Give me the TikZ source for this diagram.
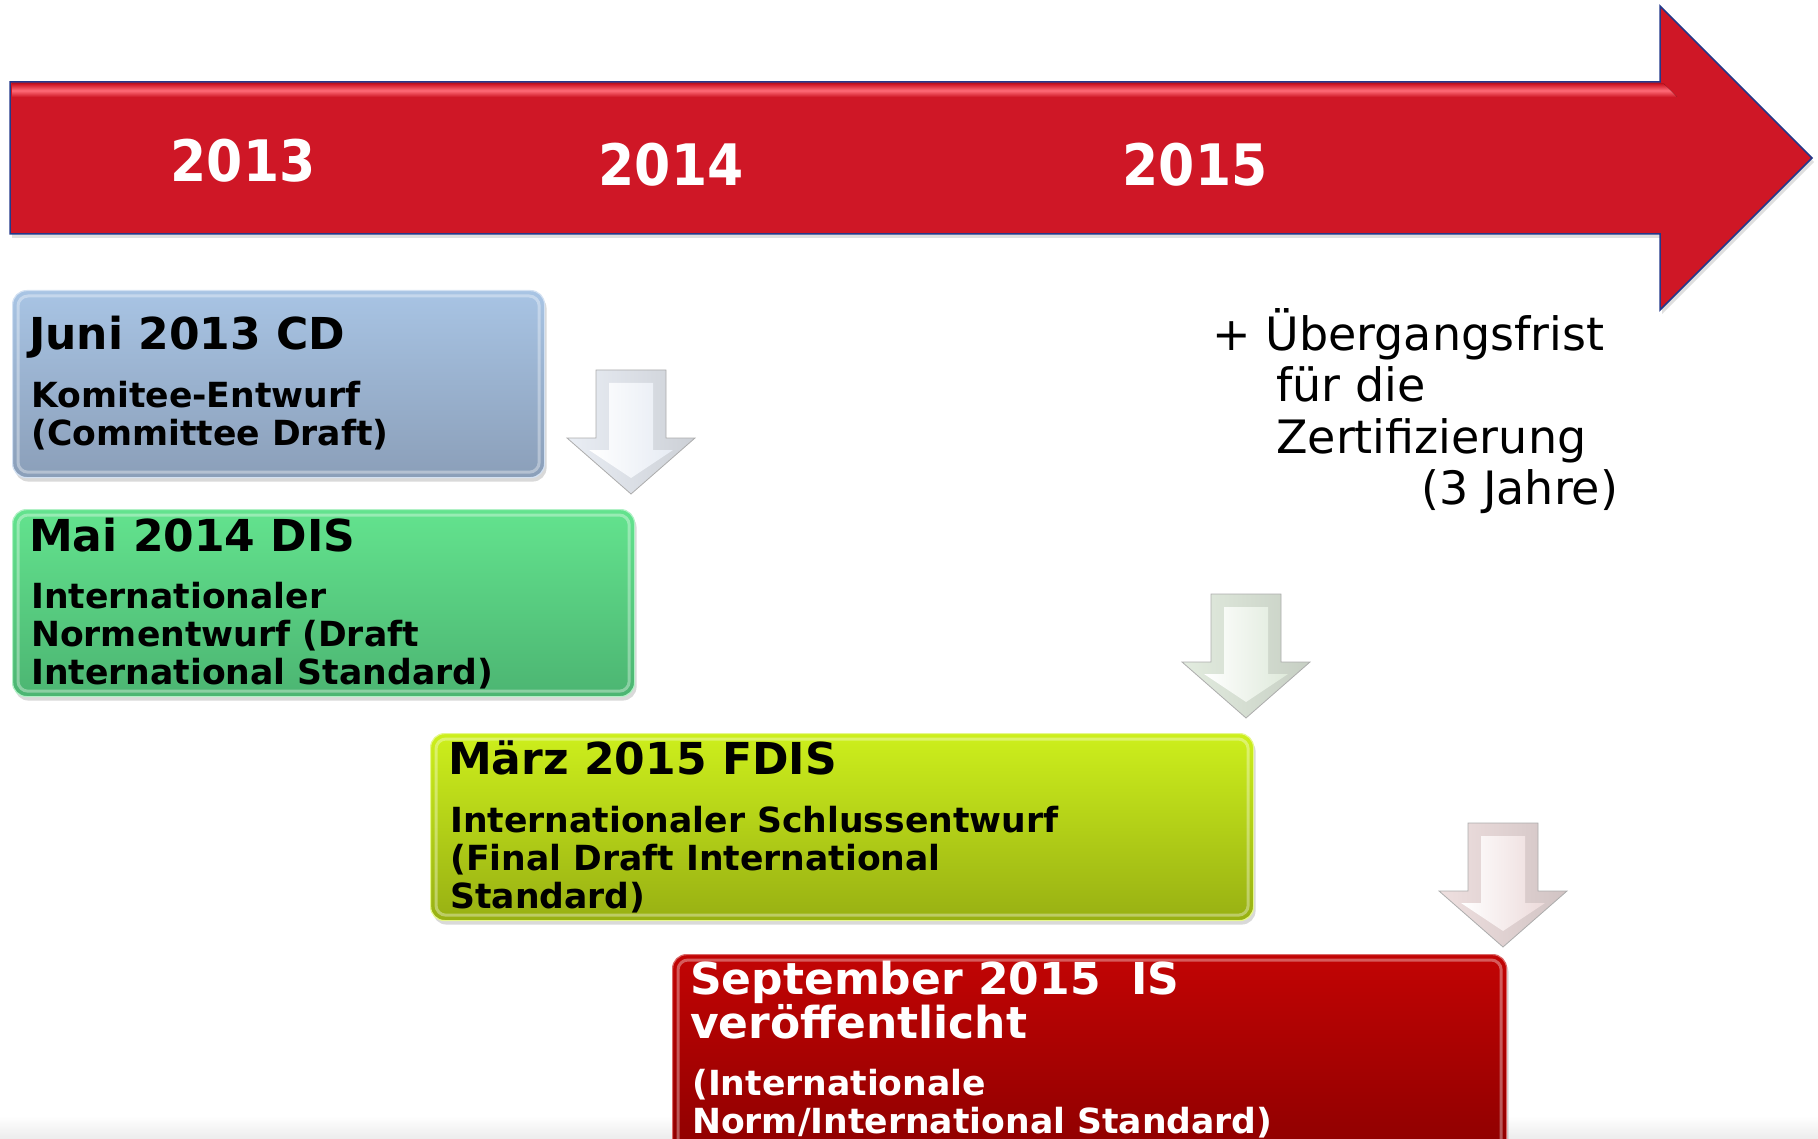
\documentclass[tikz,border=0pt]{standalone}
\usepackage{fontspec}
\setmainfont{DejaVu Sans}
\usepackage{graphicx}
\usetikzlibrary{shadows}

\definecolor{bigred}{HTML}{CF1726}
\definecolor{bigredhi}{HTML}{FF6B78}
\definecolor{rimblue}{HTML}{23398A}
\definecolor{cdtop}{HTML}{A8C4E4}
\definecolor{cdbot}{HTML}{8B9FB9}
\definecolor{distop}{HTML}{63E38E}
\definecolor{disbot}{HTML}{4CB572}
\definecolor{fdistop}{HTML}{CDEF1C}
\definecolor{fdisbot}{HTML}{98B013}
\definecolor{istop}{HTML}{C20404}
\definecolor{isbot}{HTML}{8E0000}
\definecolor{arrA}{HTML}{E6EBF3}
\definecolor{arrB}{HTML}{DEE9DA}
\definecolor{arrC}{HTML}{ECDADA}

\tikzset{
	stage/.style={rectangle, rounded corners=14pt, inner sep=0pt, anchor=north west, line width=1.2pt,
		drop shadow={opacity=.3, shadow xshift=2pt, shadow yshift=-4pt}},
	stagetitle/.style={anchor=base west, inner sep=0pt, align=left, font=\bfseries\fontsize{44}{44}\selectfont},
	stagesub/.style={anchor=base west, inner sep=0pt, align=left, font=\bfseries\fontsize{34.6}{38}\selectfont},
	year/.style={anchor=base, inner sep=0pt, text=white, font=\bfseries\fontsize{52}{52}\selectfont},
}

% block arrow pointing down: top centre x, top y, tint
\newcommand{\stagearrow}[3]{%
	\begin{scope}[shift={(#1,#2)}]
		\path[draw=gray!65, line width=.8pt, left color=#3!85!white, right color=#3!75!gray]
			(-35,0) -- (35,0) -- (35,68) -- (64,68) -- (0,124) -- (-64,68) -- (-35,68) -- cycle;
		\path[left color=white, right color=#3]
			(-22,13) -- (22,13) -- (22,80) -- (42,80) -- (0,108) -- (-42,80) -- (-22,80) -- cycle;
	\end{scope}}

\begin{document}
\begin{tikzpicture}[x=1pt, y=-1pt]
	\useasboundingbox (0,0) rectangle (1818,1139);
	\fill[top color=white, bottom color=gray!15] (0,1116) rectangle (1818,1139);

	% time line
	\draw[rimblue, line width=1.5pt, fill=bigred, drop shadow={opacity=.25, shadow xshift=2pt, shadow yshift=-4pt}]
		(10,82) -- (1660,82) -- (1660,6) -- (1812,158) -- (1660,310) -- (1660,234) -- (10,234) -- cycle;
	\fill[top color=bigred, bottom color=bigred, middle color=bigredhi] (12,84) -- (1664,84) -- (1677,97) -- (12,97) -- cycle;
	\node[year] (y13) at (243,182) {\scalebox{1}[1.1]{2013}};
	\node[year] (y14) at (671,186) {\scalebox{1}[1.1]{2014}};
	\node[year] (y15) at (1195,186) {\scalebox{1}[1.1]{2015}};

	% stages (multi-line texts sit on the baseline of their last line)
	\node[stage, minimum width=532pt, minimum height=187pt, top color=cdtop, bottom color=cdbot, draw=cdtop!50!white] (cd) at (12,290) {};
	\node[stagetitle] (cdtitle) at (29,350) {Juni 2013 CD};
	\node[stagesub] (cdsub) at (31,446) {Komitee-Entwurf\\(Committee Draft)};

	\node[stage, minimum width=622pt, minimum height=187pt, top color=distop, bottom color=disbot, draw=distop!50!white] (dis) at (12,509) {};
	\node[stagetitle] (distitle) at (29,551) {Mai 2014 DIS};
	\node[stagesub] (dissub) at (31,684) {Internationaler\\Normentwurf (Draft\\International Standard)};

	\node[stage, minimum width=823pt, minimum height=187pt, top color=fdistop, bottom color=fdisbot, draw=fdistop!50!white] (fdis) at (430,733) {};
	\node[stagetitle] (fdistitle) at (448,774) {März 2015 FDIS};
	\node[stagesub] (fdissub) at (450,908) {Internationaler Schlussentwurf\\(Final Draft International\\Standard)};

	\node[stage, minimum width=834pt, minimum height=200pt, top color=istop, bottom color=isbot, draw=istop!60!white] (is) at (672,954) {};
	\node[stagetitle, text=white] (istitle) at (690,1038) {September 2015~ IS\\veröffentlicht};
	\node[stagesub, text=white] (issub) at (692,1133) {(Internationale\\Norm/International Standard)};

	\foreach \s in {cd,dis,fdis,is}
		\draw[white, opacity=.35, line width=3pt, rounded corners=10pt]
			([shift={(6,6)}]\s.north west) rectangle ([shift={(-6,-6)}]\s.south east);

	% arrows between the stages
	\stagearrow{631}{370}{arrA}
	\stagearrow{1246}{594}{arrB}
	\stagearrow{1503}{823}{arrC}

	\node[anchor=base west, inner sep=0pt, align=left, font=\fontsize{46}{51.5}\selectfont] (frist) at (1212,504.5)
		{+ Übergangsfrist\\\hspace*{64pt}für die\\\hspace*{64pt}Zertifizierung\\\makebox[406pt][r]{(3 Jahre)}};
\end{tikzpicture}
\end{document}
